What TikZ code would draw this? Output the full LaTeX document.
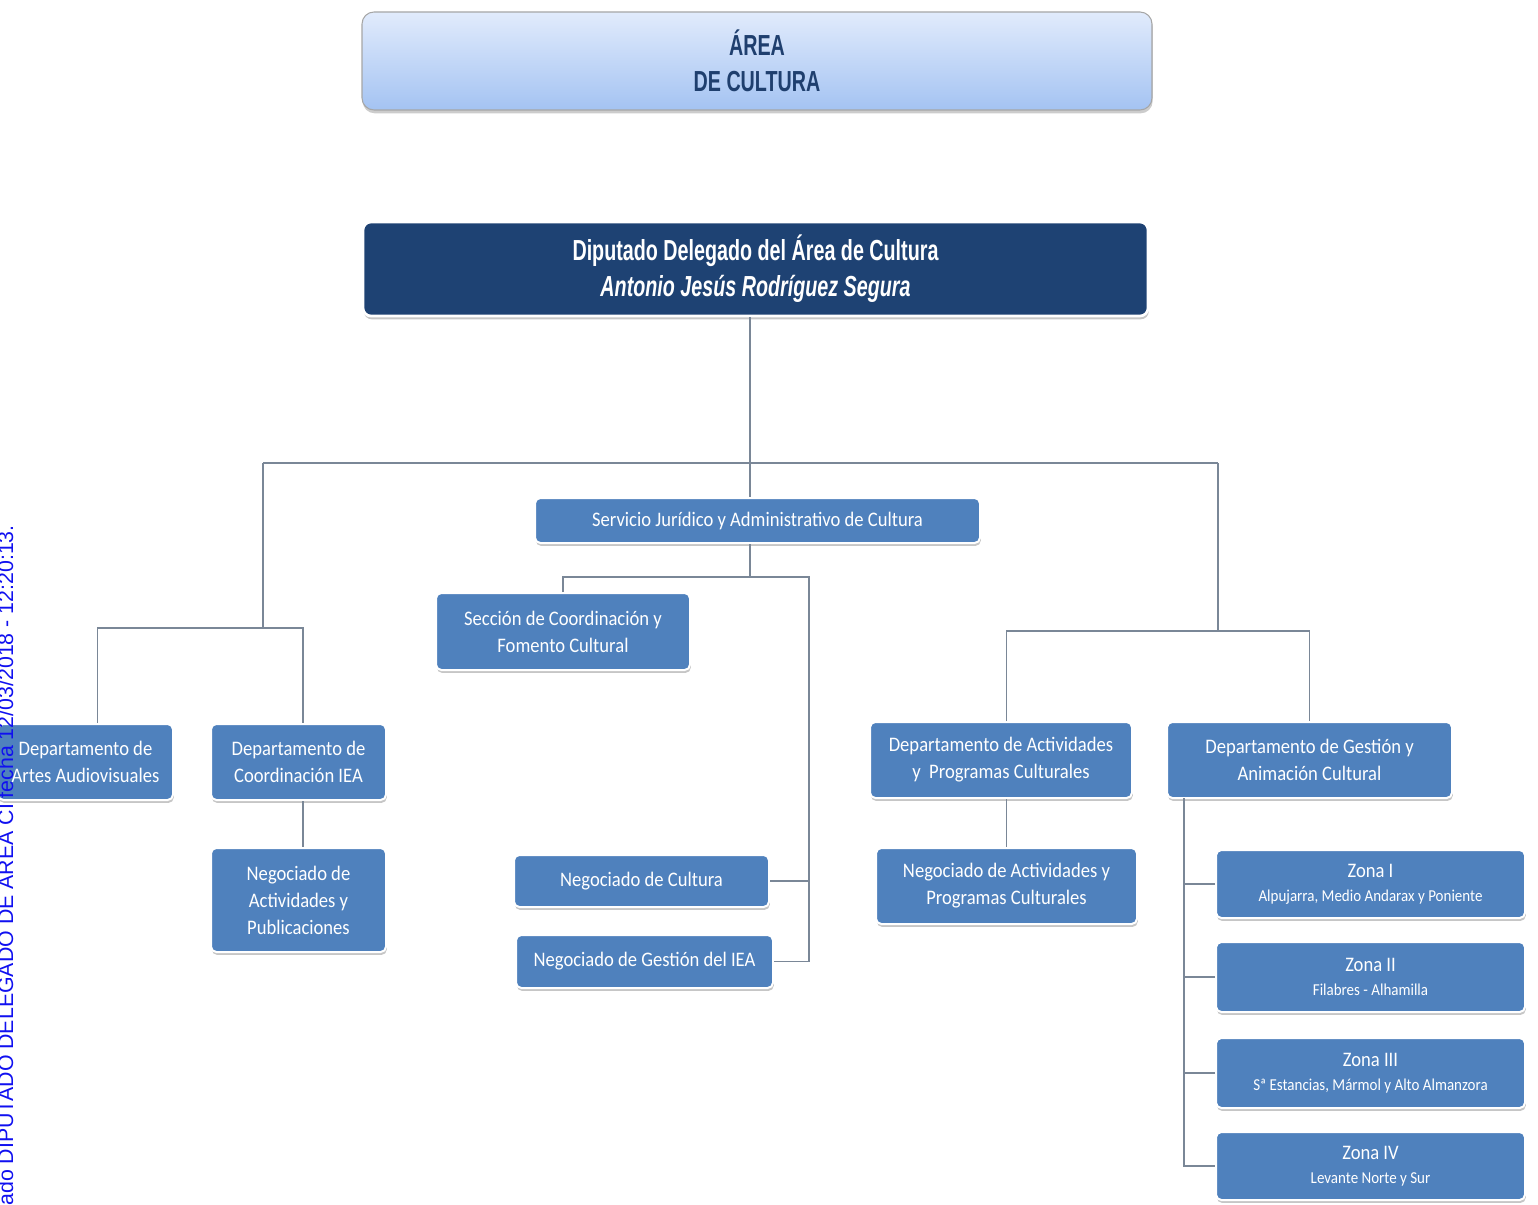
\documentclass[tikz,border=0pt]{standalone}
\usepackage{fontspec}
\setmainfont{Carlito}[FakeStretch=0.9]
\newfontfamily\headfont{Liberation Sans}[FakeStretch=0.68]
\newfontfamily\stampfont{Liberation Sans}
\usetikzlibrary{shadows}

\definecolor{boxblue}{HTML}{4F81BD}
\definecolor{navyblue}{HTML}{1E4273}
\definecolor{linkgray}{HTML}{7A8797}
\definecolor{headtext}{HTML}{1F3F6E}
\definecolor{areatop}{HTML}{E1EBFC}
\definecolor{areabottom}{HTML}{A4C3F2}
\definecolor{stampblue}{HTML}{1010F0}

\newcommand\boxfont{\fontsize{15.5}{20.25}\selectfont}
\newcommand\zonafont{\fontsize{12.5}{14}\selectfont}
\newcommand\bigfont{\headfont\bfseries\fontsize{21.75}{27}\selectfont}

\begin{document}
\begin{tikzpicture}[
	x=0.75pt, y=-0.75pt,
	wh/.style 2 args = {minimum width=#1*0.75pt, minimum height=#2*0.75pt},
	unitbox/.style = {rounded corners=4pt, fill=boxblue, draw=white,
		line width=1.5pt, text=white, align=center, inner sep=2pt, font=\boxfont,
		drop shadow={shadow xshift=0.6pt, shadow yshift=-2.2pt, fill=black!50, opacity=0.45}},
	areabox/.style = {rounded corners=9pt, top color=areatop, bottom color=areabottom,
		draw=gray!70, line width=0.8pt, text=headtext, align=center, font=\bigfont,
		drop shadow={shadow xshift=0.5pt, shadow yshift=-2.5pt, fill=black!50, opacity=0.4}},
	chiefbox/.style = {rounded corners=6pt, fill=navyblue, draw=white, line width=2pt,
		text=white, align=center, font=\bigfont,
		drop shadow={shadow xshift=0.6pt, shadow yshift=-2.5pt, fill=black!50, opacity=0.45}},
	link/.style = {draw=linkgray, line width=0.9pt},
	stamp/.style = {text=stampblue, font=\stampfont\fontsize{16}{18}\selectfont, inner sep=0pt}
	]
	\useasboundingbox (0,0) rectangle (1538,1205);

	\node [areabox, wh={790}{98}] (area) at (757,61) {ÁREA\\DE CULTURA};
	\node [chiefbox, wh={785}{94}] (dip) at (755.5,269)
		{Diputado Delegado del Área de Cultura\\\itshape Antonio Jesús Rodríguez Segura};

	\node [unitbox, wh={445}{45}] (serv) at (757.5,520.5)
		{Servicio Jurídico y Administrativo de Cultura};
	\node [unitbox, wh={254}{77}] (secc) at (563,631.5) {Sección de Coordinación y\\Fomento Cultural};
	\node [unitbox, wh={255}{52}] (negcult) at (641.5,881) {Negociado de Cultura};
	\node [unitbox, wh={257}{53}] (neggest) at (644.5,961.5) {Negociado de Gestión del IEA};

	\node [unitbox, wh={175}{76}] (artes) at (85.5,762) {Departamento de\\Artes Audiovisuales};
	\node [unitbox, wh={175}{76}] (coord) at (298.5,762) {Departamento de\\Coordinación IEA};
	\node [unitbox, wh={175}{104}] (negpub) at (298.5,900) {Negociado de\\Actividades y\\Publicaciones};

	\node [unitbox, wh={262}{76}] (dact) at (1001,760) {Departamento de Actividades\\y\ \ Programas Culturales};
	\node [unitbox, wh={261}{76}] (negact) at (1006.5,886) {Negociado de Actividades y\\Programas Culturales};
	\node [unitbox, wh={285}{76}] (dgest) at (1309.5,760) {Departamento de Gestión y\\Animación Cultural};

	\node [unitbox, wh={309}{68}] (zona1) at (1370.5,884) {Zona I\\[-2pt]{\zonafont Alpujarra, Medio Andarax y Poniente}};
	\node [unitbox, wh={309}{70}] (zona2) at (1370.5,977) {Zona II\\[-2pt]{\zonafont Filabres - Alhamilla}};
	\node [unitbox, wh={309}{70}] (zona3) at (1370.5,1073) {Zona III\\[-2pt]{\zonafont Sª Estancias, Mármol y Alto Almanzora}};
	\node [unitbox, wh={309}{68}] (zona4) at (1370.5,1166) {Zona IV\\[-2pt]{\zonafont Levante Norte y Sur}};

	\coordinate (top) at (750,463);
	\coordinate (leftend) at (263,463);
	\coordinate (rightend) at (1218,463);
	\coordinate (leftfork) at (263,628);
	\coordinate (rightfork) at (1218,631);
	\coordinate (servfork) at (750,577);
	\coordinate (servdrop) at (809,577);
	\coordinate (zonatrunk) at (1184,798);

	\draw [link] (dip.south -| top) -- (top |- serv.north);
	\draw [link] (leftend) -- (rightend);
	\draw [link] (leftend) -- (leftfork);
	\draw [link] (rightend) -- (rightfork);
	\draw [link] ([xshift=9pt]artes.north) |- (leftfork) -| ([xshift=3.4pt]coord.north);
	\draw [link] ([xshift=3.4pt]coord.south) -- ([xshift=3.4pt]negpub.north);

	\draw [link] (serv.south -| servfork) -- (servfork);
	\draw [link] (secc.north) |- (servdrop) -- (servdrop |- neggest.east) -- (neggest.east);
	\draw [link] (negcult.east) -- (negcult.east -| servdrop);

	\draw [link] (negact.north |- dact.north) |- (rightfork) -| (dgest.north);
	\draw [link] (negact.north |- dact.south) -- (negact.north);

	\draw [link] (zonatrunk) |- (zona4.west);
	\foreach \z in {1,2,3}
		\draw [link] (zona\z.west) -- (zona\z.west -| zonatrunk);

	\node [stamp, rotate=90, anchor=base east] (stampnote) at (13,525)
		{Firmado DIPUTADO DELEGADO DE AREA CI fecha 12/03/2018 - 12:20:13.};
\end{tikzpicture}
\end{document}
